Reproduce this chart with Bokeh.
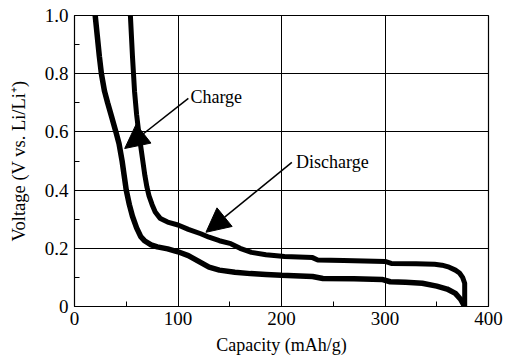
from bokeh.plotting import figure
from bokeh.models import Arrow, NormalHead, Label, FixedTicker
from bokeh.embed import file_html
from bokeh.resources import INLINE

# Charge curve (lower)
charge_cap = [20, 22, 24, 26, 29, 32, 36, 40, 43, 46, 48, 50, 53, 56, 60, 64, 68, 74, 80, 90, 100,
              110, 120, 130, 140, 155, 170, 185, 200, 230, 240, 270, 297, 305, 320, 336, 350, 360, 368, 373, 377]
charge_v = [1.0, 0.93, 0.86, 0.8, 0.74, 0.7, 0.65, 0.6, 0.56, 0.5, 0.45, 0.4, 0.35, 0.31, 0.27, 0.24, 0.225,
            0.212, 0.205, 0.198, 0.188, 0.175, 0.155, 0.135, 0.125, 0.118, 0.113, 0.11, 0.107, 0.103, 0.096,
            0.095, 0.093, 0.085, 0.083, 0.08, 0.07, 0.06, 0.045, 0.025, 0.0]

# Discharge curve (upper)
discharge_cap = [54, 55, 56, 57, 58, 60, 62, 64, 66, 68, 70, 72, 75, 78, 83, 90, 100, 110, 122, 130, 140,
                 151, 160, 171, 185, 203, 230, 235, 260, 300, 306, 330, 348, 355, 362, 368, 372, 375, 377, 377]
discharge_v = [1.0, 0.93, 0.86, 0.8, 0.74, 0.66, 0.6, 0.55, 0.5, 0.45, 0.41, 0.38, 0.35, 0.325, 0.302, 0.29,
               0.28, 0.265, 0.25, 0.238, 0.226, 0.216, 0.2, 0.186, 0.178, 0.172, 0.168, 0.16, 0.158, 0.155,
               0.148, 0.147, 0.145, 0.142, 0.135, 0.125, 0.115, 0.1, 0.08, 0.0]

x_ticks = [0, 100, 200, 300, 400]
y_ticks = [0, 0.2, 0.4, 0.6, 0.8, 1.0]
y_tick_labels = ["0", "0.2", "0.4", "0.6", "0.8", "1.0"]

FONT = "Liberation Serif"

p = figure(width=503, height=361, x_range=(0, 400), y_range=(0, 1.0),
           output_backend="svg", toolbar_location=None,
           min_border_left=74, min_border_right=15, min_border_top=15, min_border_bottom=55)

p.line(charge_cap, charge_v, line_width=5.5, line_color="black")
p.line(discharge_cap, discharge_v, line_width=5, line_color="black")

p.outline_line_color = "black"
p.outline_line_width = 1.2
p.grid.grid_line_color = "black"
p.grid.grid_line_width = 1
p.grid.grid_line_alpha = 1.0

p.xaxis.ticker = FixedTicker(ticks=x_ticks, minor_ticks=[50, 150, 250, 350])
p.yaxis.ticker = FixedTicker(ticks=y_ticks, minor_ticks=[0.1, 0.3, 0.5, 0.7, 0.9])
p.yaxis.major_label_overrides = {t: l for t, l in zip(y_ticks, y_tick_labels)}

for ax in (p.xaxis, p.yaxis):
    ax.major_tick_in = 0
    ax.major_tick_out = 0
    ax.minor_tick_in = 5
    ax.minor_tick_out = 0
    ax.minor_tick_line_color = "black"
    ax.axis_line_color = "black"
    ax.major_label_text_font = FONT
    ax.major_label_text_font_size = "19px"
    ax.major_label_text_color = "black"
    ax.axis_label_text_font = FONT
    ax.axis_label_text_font_style = "normal"
    ax.axis_label_text_color = "black"

p.xaxis.axis_label = "Capacity (mAh/g)"
p.xaxis.axis_label_text_font_size = "18px"
p.xaxis.major_label_standoff = 5
p.xaxis.axis_label_standoff = 7

p.yaxis.axis_label = "Voltage (V vs. Li/Li\u207a)"
p.yaxis.axis_label_text_font_size = "18.5px"
p.yaxis.major_label_standoff = 6
p.yaxis.axis_label_standoff = 13

p.add_layout(Arrow(end=NormalHead(size=24, fill_color="black", line_color="black"),
                   x_start=110, y_start=0.715, x_end=48.5, y_end=0.543,
                   line_width=1.5, line_color="black"))
p.add_layout(Arrow(end=NormalHead(size=24, fill_color="black", line_color="black"),
                   x_start=210, y_start=0.495, x_end=127, y_end=0.255,
                   line_width=1.5, line_color="black"))

p.add_layout(Label(x=112, y=0.72, text="Charge", text_font=FONT, text_font_size="18px",
                   text_baseline="middle", text_color="black"))
p.add_layout(Label(x=214, y=0.495, text="Discharge", text_font=FONT, text_font_size="18px",
                   text_baseline="middle", text_color="black"))

open("out.html", "w").write(file_html(p, INLINE))
